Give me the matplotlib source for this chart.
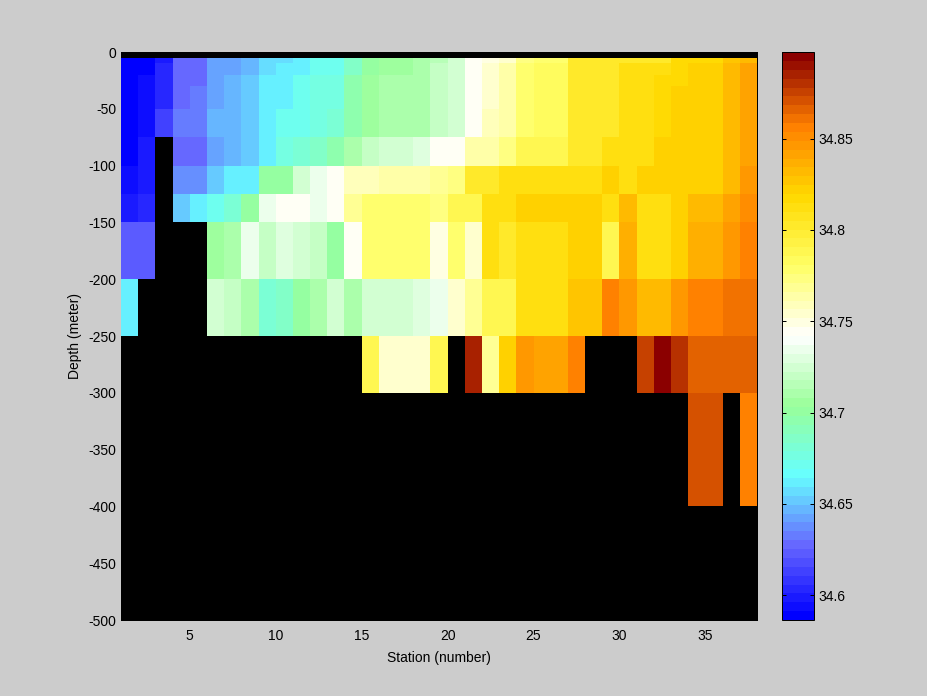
import matplotlib
matplotlib.use("Agg")
import matplotlib.pyplot as plt
from matplotlib.colors import LinearSegmentedColormap
import numpy as np

plt.rcParams['font.family'] = ['Liberation Sans', 'DejaVu Sans']
plt.rcParams['axes.unicode_minus'] = False

n = np.nan

# Station edges and depth edges of the cells (meter)
stations = np.arange(1, 39)
depths = [-5, -10, -20, -30, -50, -75, -100, -125, -150, -200, -250, -300, -400]

# Salinity, one list per depth layer, stations 1-37
s_5_10 = [34.588, 34.590, 34.601, 34.626, 34.626, 34.640, 34.644, 34.648, 34.656, 34.658, 34.664, 34.670, 34.673, 34.685, 34.703, 34.705, 34.705, 34.709, 34.715, 34.727, 34.746, 34.750, 34.754, 34.774, 34.778, 34.778, 34.803, 34.803, 34.803, 34.803, 34.804, 34.804, 34.816, 34.816, 34.816, 34.827, 34.834]
s_10_20 = [34.588, 34.590, 34.605, 34.626, 34.626, 34.644, 34.644, 34.648, 34.656, 34.664, 34.664, 34.670, 34.673, 34.685, 34.703, 34.705, 34.705, 34.709, 34.718, 34.727, 34.746, 34.752, 34.762, 34.778, 34.782, 34.782, 34.803, 34.803, 34.803, 34.810, 34.810, 34.810, 34.816, 34.820, 34.820, 34.831, 34.841]
s_20_30 = [34.588, 34.596, 34.605, 34.626, 34.626, 34.644, 34.648, 34.650, 34.664, 34.664, 34.670, 34.6755, 34.6755, 34.694, 34.705, 34.709, 34.709, 34.709, 34.718, 34.727, 34.746, 34.752, 34.762, 34.778, 34.782, 34.782, 34.803, 34.803, 34.803, 34.810, 34.810, 34.816, 34.816, 34.820, 34.820, 34.831, 34.841]
s_30_50 = [34.588, 34.596, 34.605, 34.626, 34.632, 34.644, 34.648, 34.654, 34.664, 34.664, 34.670, 34.6755, 34.678, 34.694, 34.705, 34.709, 34.709, 34.712, 34.718, 34.727, 34.746, 34.752, 34.762, 34.778, 34.782, 34.782, 34.803, 34.803, 34.804, 34.810, 34.810, 34.816, 34.820, 34.824, 34.824, 34.831, 34.841]
s_50_75 = [34.590, 34.593, 34.611, 34.632, 34.632, 34.648, 34.648, 34.654, 34.664, 34.673, 34.673, 34.678, 34.683, 34.694, 34.705, 34.709, 34.709, 34.712, 34.718, 34.727, 34.746, 34.758, 34.766, 34.778, 34.782, 34.782, 34.803, 34.803, 34.804, 34.814, 34.814, 34.816, 34.820, 34.824, 34.824, 34.831, 34.841]
s_75_100 = [34.590, 34.599, n, 34.626, 34.626, 34.644, 34.648, 34.654, 34.664, 34.6755, 34.680, 34.685, 34.697, 34.709, 34.718, 34.724, 34.724, 34.730, 34.744, 34.746, 34.762, 34.766, 34.774, 34.788, 34.790, 34.790, 34.805, 34.805, 34.810, 34.810, 34.814, 34.820, 34.820, 34.824, 34.824, 34.831, 34.841]
s_100_125 = [34.593, 34.599, n, 34.637, 34.637, 34.654, 34.660, 34.664, 34.700, 34.703, 34.727, 34.733, 34.746, 34.758, 34.758, 34.762, 34.762, 34.762, 34.770, 34.774, 34.803, 34.803, 34.810, 34.814, 34.814, 34.814, 34.814, 34.814, 34.820, 34.814, 34.820, 34.820, 34.824, 34.824, 34.824, 34.831, 34.845]
s_125_150 = [34.599, 34.605, n, 34.654, 34.660, 34.673, 34.680, 34.700, 34.736, 34.742, 34.742, 34.736, 34.744, 34.770, 34.778, 34.778, 34.778, 34.778, 34.774, 34.788, 34.788, 34.810, 34.810, 34.820, 34.820, 34.820, 34.820, 34.820, 34.814, 34.831, 34.814, 34.814, 34.824, 34.834, 34.834, 34.841, 34.852]
s_150_200 = [34.621, 34.621, n, n, n, 34.705, 34.712, 34.736, 34.718, 34.730, 34.724, 34.718, 34.703, 34.744, 34.778, 34.778, 34.778, 34.778, 34.750, 34.778, 34.754, 34.810, 34.803, 34.810, 34.814, 34.814, 34.824, 34.820, 34.790, 34.838, 34.814, 34.814, 34.824, 34.838, 34.838, 34.848, 34.855]
s_200_250 = [34.660, n, n, n, n, 34.724, 34.718, 34.709, 34.680, 34.685, 34.703, 34.709, 34.727, 34.709, 34.724, 34.724, 34.724, 34.730, 34.735, 34.754, 34.770, 34.788, 34.788, 34.810, 34.814, 34.814, 34.827, 34.827, 34.858, 34.845, 34.831, 34.834, 34.845, 34.855, 34.855, 34.863, 34.863]
s_250_300 = [n, n, n, n, n, n, n, n, n, n, n, n, n, n, 34.790, 34.754, 34.754, 34.754, 34.790, n, 34.885, 34.768, 34.820, 34.845, 34.841, 34.841, 34.855, n, n, n, 34.876, 34.895, 34.880, 34.868, 34.868, 34.868, 34.868]
s_300_400 = [n, n, n, n, n, n, n, n, n, n, n, n, n, n, n, n, n, n, n, n, n, n, n, n, n, n, n, n, n, n, n, n, n, 34.873, 34.873, n, 34.855]

layers = [s_5_10, s_10_20, s_20_30, s_30_50, s_50_75, s_75_100, s_100_125,
          s_125_150, s_150_200, s_200_250, s_250_300, s_300_400]

# Colour anchors of the 64 level map
cmap_colors = ['#0000ff', '#6666ff', '#66ffff', '#99ff99', '#ffffff',
               '#ffff66', '#ffd900', '#ff8000', '#8b0000']
cmap = LinearSegmentedColormap.from_list('salt', cmap_colors, N=64)

sal = np.ma.masked_invalid(np.array(layers))
vmin = 34.5865
vmax = 34.8974

fig = plt.figure(figsize=(9.28, 6.96), dpi=100, facecolor='#cccccc')
ax = fig.add_axes([121/928, 1-620/696, (757-121)/928, (620-52)/696], facecolor='black')
mesh = ax.pcolormesh(stations, depths, sal, cmap=cmap, vmin=vmin, vmax=vmax,
                     edgecolors='none', antialiased=False)
ax.set_xlim(1, 38)
ax.set_ylim(-500, 0)
ax.set_xticks(np.arange(5, 36, 5))
ax.set_yticks(np.arange(-500, 1, 50))
ax.tick_params(axis='x', length=0, labelsize=10, pad=6.5)
ax.tick_params(axis='y', length=0, labelsize=10, pad=3.5)
ax.spines['left'].set_visible(False)
for side in ['top', 'right', 'bottom']:
    ax.spines[side].set_linewidth(0.72)
ax.set_xlabel('Station (number)', fontsize=10, labelpad=6)
ax.set_ylabel('Depth (meter)', fontsize=10, labelpad=4.5)

# Colorbar
cax = fig.add_axes([782/928, 1-620/696, 32/928, 568/696])
cb = fig.colorbar(mesh, cax=cax)
cb.set_ticks([34.6, 34.65, 34.7, 34.75, 34.8, 34.85])
cb.set_ticklabels(['34.6', '34.65', '34.7', '34.75', '34.8', '34.85'])
cax.tick_params(direction='in', length=3, width=0.72, labelsize=10, left=True, right=True, pad=3)
cb.outline.set_linewidth(0.72)

fig.savefig('out.png', dpi=100, facecolor=fig.get_facecolor())
